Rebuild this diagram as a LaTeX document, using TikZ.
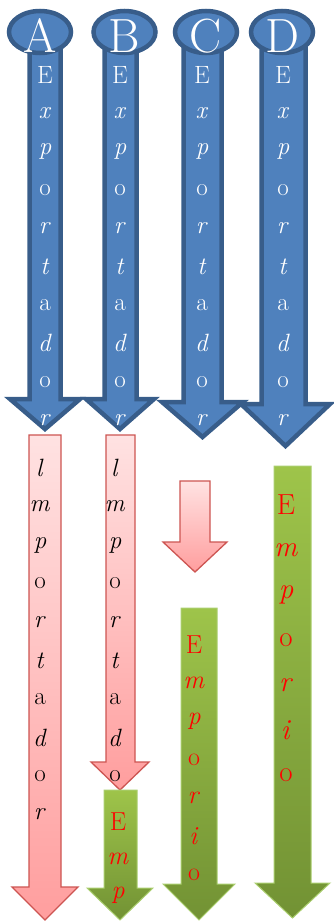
\documentclass[tikz,border=0pt]{standalone}
\usepackage{fontspec}
\usetikzlibrary{shapes.geometric}
\definecolor{bluefill}{RGB}{79,129,189}
\definecolor{blueedge}{RGB}{56,93,138}
\definecolor{pinktop}{RGB}{255,226,226}
\definecolor{pinkbot}{RGB}{255,158,158}
\definecolor{pinkedge}{RGB}{205,85,82}
\definecolor{greentop}{RGB}{158,196,74}
\definecolor{greenbot}{RGB}{114,146,52}
\definecolor{greenedge}{RGB}{170,206,110}
\tikzset{
  bluearr/.style={draw=blueedge, line width=4.5pt, fill=bluefill, line join=miter},
  bluecap/.style={draw=blueedge, line width=4.5pt, fill=bluefill, ellipse},
  pinkarr/.style={draw=pinkedge, line width=1.3pt, top color=pinktop, bottom color=pinkbot},
  greenarr/.style={draw=greenedge, line width=1pt, top color=greentop, bottom color=greenbot},
  captxt/.style={text=white, font=\fontsize{48}{48}\selectfont, inner sep=0pt},
  bluetxt/.style={text=white, font=\fontsize{25}{25}\selectfont, inner sep=0pt},
  pinktxt/.style={text=black, font=\fontsize{25}{25}\selectfont, inner sep=0pt},
  greentxt/.style={text=red, font=\fontsize{26}{26}\selectfont, inner sep=0pt},
  greenbig/.style={text=red, font=\fontsize{29}{29}\selectfont, inner sep=0pt}
}
% #1 style, #2 shaft left, #3 shaft right, #4 top, #5 head top, #6 head left, #7 head right, #8 tip
\newcommand{\drawdownarrow}[8]{%
  \path[#1] (#2,#4) -- (#3,#4) -- (#3,#5) -- (#7,#5) -- ({(#6+#7)/2},#8) -- (#6,#5) -- (#2,#5) -- cycle;}
\newcommand{\stackletters}[6]{%
  \foreach \ch [count=\k from 0] in {#6} {
    \node[#1] (#2-\k) at (#3,{#4+#5*\k}) {\ch};
  }}
\begin{document}
\begin{tikzpicture}[x=1pt,y=-1pt]
\useasboundingbox (0,0) rectangle (334,923);
% blue arrows
\drawdownarrow{bluearr}{29.5}{60.5}{45}{399}{10}{80}{429}
\drawdownarrow{bluearr}{104.5}{136.5}{45}{399}{86}{154}{429}
\drawdownarrow{bluearr}{183.5}{221.5}{45}{402}{162}{243}{437}
\drawdownarrow{bluearr}{261.5}{305.5}{45}{404}{241}{330}{446}
% caps
\node[bluecap, minimum width=62pt, minimum height=42pt] (capA) at (40,32) {};
\node[bluecap, minimum width=62pt, minimum height=42pt] (capB) at (124.5,32) {};
\node[bluecap, minimum width=62pt, minimum height=42pt] (capC) at (206,32) {};
\node[bluecap, minimum width=62pt, minimum height=42pt] (capD) at (282,32) {};
\node[captxt] (labA) at (40,36) {A};
\node[captxt] (labB) at (124.5,36) {B};
\node[captxt] (labC) at (206,36) {C};
\node[captxt] (labD) at (282,36) {D};
% blue text
\stackletters{bluetxt}{ba}{45}{75}{38.33}{E,\textit{x},\textit{p},o,\textit{r},\textit{t},a,\textit{d},o,\textit{r}}
\stackletters{bluetxt}{bb}{120}{75}{38.33}{E,\textit{x},\textit{p},o,\textit{r},\textit{t},a,\textit{d},o,\textit{r}}
\stackletters{bluetxt}{bc}{202}{75}{38.33}{E,\textit{x},\textit{p},o,\textit{r},\textit{t},a,\textit{d},o,\textit{r}}
\stackletters{bluetxt}{bd}{283}{75}{38.33}{E,\textit{x},\textit{p},o,\textit{r},\textit{t},a,\textit{d},o,\textit{r}}
% pink arrows
\drawdownarrow{pinkarr}{29}{61}{435}{887}{12}{78}{920}
\stackletters{pinktxt}{pa}{40}{468}{38.5}{\textit{l},\textit{m},\textit{p},o,\textit{r},\textit{t},a,\textit{d},o,\textit{r}}
\drawdownarrow{pinkarr}{106}{135}{435}{762}{91}{149}{790}
\stackletters{pinktxt}{pb}{115}{468}{38.5}{\textit{l},\textit{m},\textit{p},o,\textit{r},\textit{t},a,\textit{d},o}
\drawdownarrow{pinkarr}{180}{210}{481}{542}{163}{227}{572}
% green arrows
\drawdownarrow{greenarr}{104}{137}{790}{888}{87}{153}{920}
\stackletters{greentxt}{gb}{118}{822}{36.5}{E,\textit{m},\textit{p}}
\drawdownarrow{greenarr}{181}{217}{608}{884}{163}{235}{920}
\stackletters{greentxt}{gc}{194}{645}{38.3}{E,\textit{m},\textit{p},o,\textit{r},\textit{i},o}
\drawdownarrow{greenarr}{274}{311}{466}{883}{255}{330}{918}
\stackletters{greenbig}{gd}{286}{505}{45}{E,\textit{m},\textit{p},o,\textit{r},\textit{i},o}
\end{tikzpicture}
\end{document}
